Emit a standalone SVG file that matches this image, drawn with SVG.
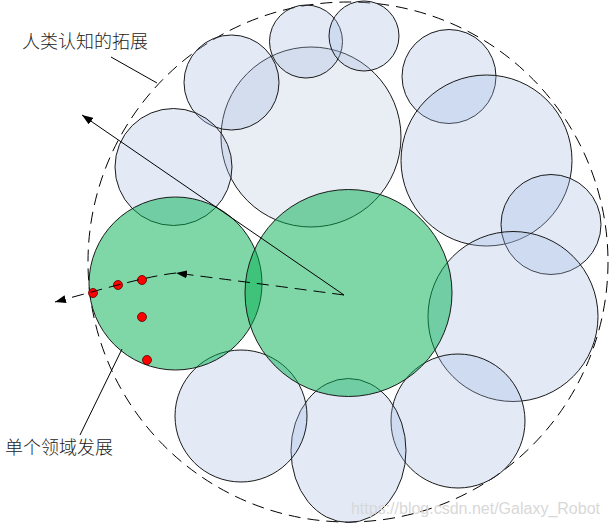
<svg xmlns="http://www.w3.org/2000/svg" width="610" height="524" viewBox="0 0 610 524">
<defs>
<style>
.b{fill:#a2b9e1;fill-opacity:0.3;stroke:#1a1a1a;stroke-width:1}
.l{fill:#b6c3da;fill-opacity:0.3;stroke:#1a1a1a;stroke-width:1}
.g{fill:#00b050;fill-opacity:0.5;stroke:#1a1a1a;stroke-width:1}
.d{fill:#ff0000;stroke:#5a0000;stroke-width:0.8}
.ln{fill:none;stroke:#000;stroke-width:1}
.ds{fill:none;stroke:#000;stroke-width:1;stroke-dasharray:12 7}
.t{font-family:"Noto Sans CJK SC","Liberation Sans",sans-serif;font-size:18px;font-weight:300;fill:#222}
</style>
<marker id="ah" viewBox="0 0 11 8" refX="11" refY="4" markerWidth="11" markerHeight="8" markerUnits="userSpaceOnUse" orient="auto">
<path d="M0,0 L11,4 L0,8 Z" fill="#000"/>
</marker>
</defs>
<rect width="610" height="524" fill="#fff"/>
<g id="outer"><circle cx="348" cy="262" r="260" class="ds"/></g>
<g id="c4"><circle cx="311" cy="137" r="90" class="l"/></g>
<g id="c1"><circle cx="231.5" cy="82.5" r="47.5" class="b"/></g>
<g id="c2"><circle cx="306" cy="41.5" r="36.5" class="b"/></g>
<g id="c3"><circle cx="364" cy="36" r="35" class="b"/></g>
<g id="c5"><circle cx="449" cy="76.5" r="47" class="b"/></g>
<g id="c6"><circle cx="486.5" cy="160.5" r="85.5" class="b"/></g>
<g id="c7"><circle cx="551" cy="224.5" r="50" class="b"/></g>
<g id="c8"><circle cx="513" cy="316.5" r="85" class="b"/></g>
<g id="c9"><circle cx="458" cy="421" r="67" class="b"/></g>
<g id="c10"><ellipse cx="348.5" cy="450.5" rx="57.5" ry="72" class="b"/></g>
<g id="c11"><circle cx="241" cy="416" r="66" class="b"/></g>
<g id="c12"><circle cx="173.5" cy="167" r="58.5" class="b"/></g>
<g id="g1"><circle cx="175.5" cy="283.5" r="86.5" class="g"/></g>
<g id="g2"><circle cx="348.5" cy="293" r="103.5" class="g"/></g>
<g id="dots">
<circle cx="142" cy="280" r="4.5" class="d"/>
<circle cx="118" cy="285" r="4.5" class="d"/>
<circle cx="93" cy="293" r="4.5" class="d"/>
<circle cx="142" cy="317" r="4.5" class="d"/>
<circle cx="147" cy="360" r="4.5" class="d"/>
</g>
<g id="connectors">
<line x1="111" y1="57" x2="157" y2="83" class="ln"/>
<line x1="344" y1="295" x2="82" y2="115" class="ln" marker-end="url(#ah)"/>
<path d="M344,295 Q262,284 176,273" class="ds" marker-end="url(#ah)"/>
<path d="M176,273 C150,276 120,284 55,302" class="ds" marker-end="url(#ah)"/>
<line x1="122" y1="349" x2="80" y2="435" class="ln"/>
</g>
<g id="labels">
<text x="22" y="48" class="t">人类认知的拓展</text>
<text x="5" y="454" class="t">单个领域发展</text>
<text x="600" y="514" text-anchor="end" font-family="Liberation Sans, sans-serif" font-size="16" fill="#d8d8d8">https://blog.csdn.net/Galaxy_Robot</text>
</g>
</svg>
